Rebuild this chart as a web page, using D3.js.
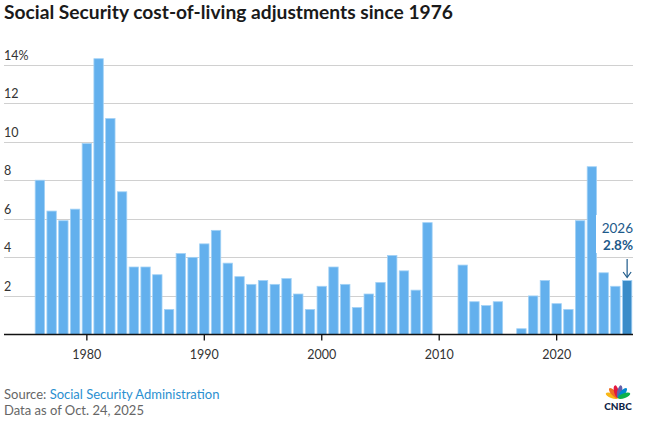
<!DOCTYPE html>
<html>
<head>
<meta charset="utf-8">
<script src="https://cdn.jsdelivr.net/npm/d3@7"></script>
<style>
  body { margin: 0; background: #fff; }
  svg { display: block; font-family: Lato, "Open Sans", sans-serif; }
</style>
</head>
<body>
<svg id="chart" width="645" height="421"></svg>
<script>
// COLA by payment year
var years = d3.range(1976, 2027);
var cola = [8.0, 6.4, 5.9, 6.5, 9.9, 14.3, 11.2, 7.4, 3.5, 3.5,
            3.1, 1.3, 4.2, 4.0, 4.7, 5.4, 3.7, 3.0, 2.6, 2.8,
            2.6, 2.9, 2.1, 1.3, 2.5, 3.5, 2.6, 1.4, 2.1, 2.7,
            4.1, 3.3, 2.3, 5.8, 0, 0, 3.6, 1.7, 1.5, 1.7,
            0, 0.3, 2.0, 2.8, 1.6, 1.3, 5.9, 8.7, 3.2, 2.5, 2.8];
var yTicks = [2, 4, 6, 8, 10, 12, 14];
var xTicks = [1980, 1990, 2000, 2010, 2020];

var svg = d3.select("#chart");

var x = d3.scaleBand()
  .domain(years)
  .range([34, 633])
  .paddingInner(0.2)
  .paddingOuter(0.1);

var y = d3.scaleLinear()
  .domain([0, 14])
  .range([334.5, 64.5]);

// title
svg.append("text")
  .attr("x", 4)
  .attr("y", 18.5)
  .attr("font-size", 19)
  .attr("font-weight", 700)
  .attr("textLength", 449)
  .attr("lengthAdjust", "spacingAndGlyphs")
  .attr("fill", "#1a1a1a")
  .text("Social Security cost-of-living adjustments since 1976");

// gridlines
var grid = svg.append("g");
grid.selectAll("line")
  .data(yTicks)
  .enter()
  .append("line")
  .attr("x1", 4)
  .attr("x2", 633)
  .attr("y1", function(d) { return Math.round(y(d)) + 0.5; })
  .attr("y2", function(d) { return Math.round(y(d)) + 0.5; })
  .attr("stroke", "#d0d0d0")
  .attr("stroke-width", 1);

grid.selectAll("text")
  .data(yTicks)
  .enter()
  .append("text")
  .attr("x", 4)
  .attr("y", function(d) { return y(d) - 5; })
  .attr("font-size", 12.5)
  .attr("fill", "#333")
  .text(function(d) { return d == 14 ? d + "%" : d; });

// bars
svg.append("g")
  .selectAll("rect")
  .data(years)
  .enter()
  .append("rect")
  .attr("x", function(d) { return x(d); })
  .attr("width", x.bandwidth())
  .attr("y", function(d, i) { return y(cola[i]); })
  .attr("height", function(d, i) { return y(0) - y(cola[i]); })
  .attr("fill", function(d) { return d == 2026 ? "#3a8cc9" : "#63b0ed"; })
  .attr("stroke", function(d, i) { return cola[i] > 0 ? "#a3d2f6" : "none"; })
  .attr("stroke-width", 0.8);

// x axis
var xAxis = d3.axisBottom(x)
  .tickValues(xTicks)
  .tickSize(6)
  .tickSizeOuter(0)
  .tickPadding(10);

var axisG = svg.append("g")
  .attr("transform", "translate(0," + y(0) + ")")
  .call(xAxis);
axisG.select(".domain").remove();
axisG.append("line")
  .attr("x1", 4)
  .attr("x2", 633)
  .attr("stroke", "#111")
  .attr("stroke-width", 1.5);
axisG.selectAll(".tick line").attr("stroke", "#111").attr("stroke-width", 1.3);
axisG.selectAll(".tick text")
  .attr("font-size", 12.5)
  .attr("font-family", "Lato, sans-serif")
  .attr("fill", "#333");

// annotation for 2026
var last = years.length - 1;
var ax = x(2026) + x.bandwidth() / 2;
var note = svg.append("g");
note.append("rect")
  .attr("x", 596).attr("y", 215).attr("width", 40).attr("height", 38)
  .attr("fill", "#fff");
note.append("text")
  .attr("x", 633).attr("y", 233)
  .attr("text-anchor", "end")
  .attr("font-size", 13.5)
  .attr("fill", "#1d5a8a")
  .text(years[last]);
note.append("text")
  .attr("x", 633).attr("y", 250)
  .attr("text-anchor", "end")
  .attr("font-size", 13.5)
  .attr("font-weight", 700)
  .attr("fill", "#1d5a8a")
  .text(cola[last].toFixed(1) + "%");
note.append("line")
  .attr("x1", ax).attr("x2", ax)
  .attr("y1", 259).attr("y2", 277)
  .attr("stroke", "#1d5a8a").attr("stroke-width", 1.2);
note.append("path")
  .attr("d", "M" + (ax - 4) + ",272 L" + ax + ",277.5 L" + (ax + 4) + ",272")
  .attr("fill", "none")
  .attr("stroke", "#1d5a8a").attr("stroke-width", 1.2);

// footer
var src = svg.append("text")
  .attr("x", 4)
  .attr("y", 399)
  .attr("font-size", 13)
  .attr("fill", "#666");
src.append("tspan").text("Source: ");
src.append("tspan").attr("fill", "#2b8fd0").text("Social Security Administration");

svg.append("text")
  .attr("x", 4)
  .attr("y", 415)
  .attr("font-size", 13)
  .attr("fill", "#666")
  .text("Data as of Oct. 24, 2025");

// CNBC logo (simplified peacock)
var logo = svg.append("g").attr("transform", "translate(618,398)");
var feathers = ["#f9b716", "#ef6f23", "#e3173e", "#6460aa", "#0089d0", "#0db14b"];
feathers.forEach(function(c, i) {
  var ang = -70 + i * 28;
  logo.append("ellipse")
    .attr("cx", 0).attr("cy", -6.5)
    .attr("rx", 2.4).attr("ry", 6.5)
    .attr("fill", c)
    .attr("transform", "rotate(" + ang + ")");
});
logo.append("text")
  .attr("x", 0).attr("y", 12)
  .attr("text-anchor", "middle")
  .attr("font-size", 10)
  .attr("font-weight", 900)
  .attr("fill", "#0f2346")
  .text("CNBC");
</script>
</body>
</html>
